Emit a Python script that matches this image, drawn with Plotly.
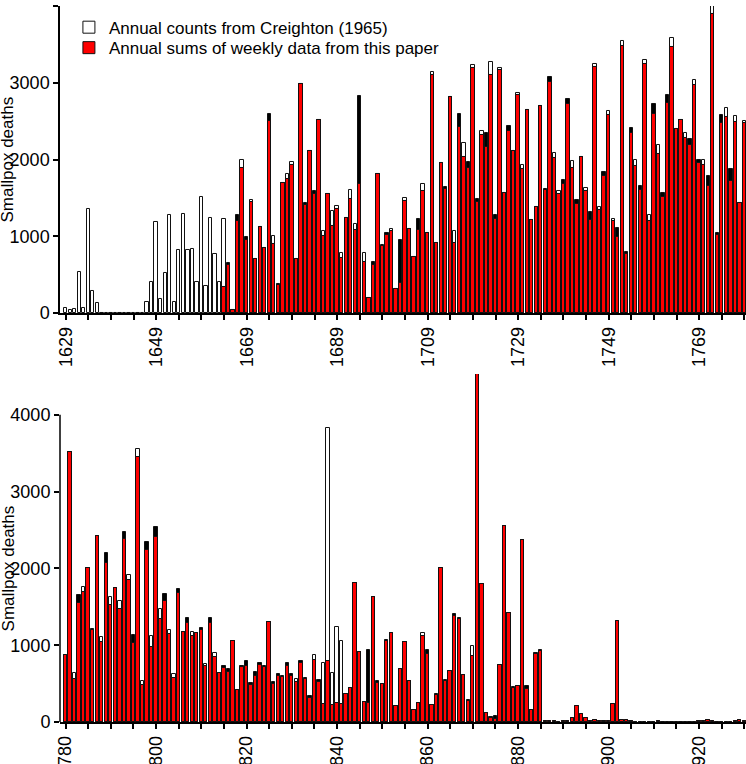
import plotly.graph_objects as go

# ---------------- data ----------------
years_top = list(range(1629, 1780))
creighton_top = (
    [70, 40, 55, 535, 70, 1355, 290, 125]
    + [0] * 10
    + [140, 400, 1190, 183, 522, 1278, 139, 826, 1291, 817, 835, 404, 1517, 352, 1239, 765, 404]
    + [1230, 630, 40, 1196, 1991, 948, 1470, 709, 1122, 852, 2504, 1000, 361, 1696, 1809, 1970]
    + [709, 2983, 1404, 2109, 1557, 2513, 1065, 1557, 1326, 1391, 783, 1243, 1600, 1165, 1687, 787, 196, 622, 1817, 883]
    + [1013, 1096, 317, 391, 1504, 1100, 730, 1078, 1687, 1048, 3143, 913, 1957, 1620, 2809, 1065, 2426, 2209, 1883, 3226]
    + [1443, 2374, 2165, 3274, 1222, 3191, 1570, 2374, 2109, 2870, 1922, 2643, 1209, 1383, 2696, 1600, 3013, 2087, 1591, 1678]
    + [2722, 1978, 1426, 2035, 1635, 1209, 3243, 1383, 1783, 2630, 1230, 991, 3539, 765, 2348, 1991, 1600, 3296, 1274, 2591]
    + [2183, 1513, 2730, 3583, 2400, 2513, 2339, 2187, 3035, 1961, 1991, 1652, 4000, 1013, 2470, 2674, 1717, 2570, 1435, 2500]
)
weekly_top = (
    [None] * 35
    + [340, 652, 40, 1283, 1883, 991, 1448, 709, 1122, 852, 2591, 904, 383, 1696, 1752, 1926]
    + [709, 2983, 1435, 2109, 1591, 2513, 1000, 1557, 1130, 1361, 722, 1243, 1491, 1087, 2830, 665, 196, 661, 1817, 870]
    + [1043, 1065, 317, 957, 1457, 1100, 730, 1230, 1587, 1048, 3100, 913, 1957, 1640, 2809, 913, 2591, 2035, 1965, 3187]
    + [1487, 2317, 2348, 3100, 1283, 3165, 1570, 2435, 2109, 2840, 1874, 2643, 1209, 1383, 2696, 1613, 3070, 2026, 1548, 1730]
    + [2787, 1891, 1478, 2035, 1587, 1313, 3209, 1348, 1839, 2574, 1196, 1104, 3478, 796, 2409, 1917, 1657, 3243, 1196, 2717]
    + [2078, 1570, 2843, 3470, 2400, 2513, 2274, 2270, 2970, 1991, 1935, 1783, 3896, 1043, 2578, 2548, 1870, 2483, 1435, 2470]
)

years_bottom = list(range(1780, 1931))
creighton_bottom = (
    [878, 3517, 639, 1543, 1761, 2009, 1200, 2422, 1109, 2074, 1622, 1748, 1574, 2378, 1913, 1035, 3552, 530, 2239, 1117]
    + [2404, 1465, 1578, 1204, 630, 1683, 1174, 1291, 1174, 1161, 1200, 752, 1283, 900, 639, 709, 652, 1052, 422, 713]
    + [726, 478, 596, 739, 713, 1304, 500, 596, 590, 726, 596, 565, 770, 565, 317, 870, 522, 770, 3826, 639]
    + [1239, 1057, 370, 443, 1813, 913, 261, 252, 1622, 513, 500, 1057, 1165, 209, 696, 1043, 535, 161, 248, 1161]
    + [891, 217, 348, 2000, 530, 661, 1378, 1335, 609, 270, 987, 7912, 1791, 117, 57, 43, 739, 2557, 1422, 448]
    + [465, 2370, 435, 152, 891, 922]
    + [None] * 45
)
weekly_bottom = (
    [878, 3517, 565, 1652, 1696, 2009, 1217, 2422, 1043, 2196, 1522, 1748, 1465, 2470, 1848, 1139, 3448, 487, 2348, 978]
    + [2543, 1335, 1661, 1143, 578, 1735, 1174, 1348, 1126, 1161, 1222, 726, 1348, 848, 639, 730, 687, 1052, 422, 730]
    + [796, 509, 652, 774, 730, 1304, 522, 622, 600, 770, 630, 522, 791, 574, 335, 804, 543, 230, 796, 217]
    + [252, 239, 370, 443, 1813, 913, 261, 935, 1622, 530, 500, 1074, 1165, 209, 696, 1043, 535, 161, 248, 1117]
    + [935, 217, 370, 2000, 552, 661, 1400, 1348, 609, 283, 861, 7912, 1791, 117, 65, 78, 739, 2557, 1422, 457]
    + [474, 2370, 465, 152, 900, 935, 13, 17, 17, 2, 9, 13, 48, 209, 109, 57, 17, 22, 9, 9]
    + [9, 230, 1317, 22, 30, 17, 4, 4, 4, 4, 4, 10, 4, 4, 4, 4, 4, 4, 4, 4]
    + [9, 9, 30, 9, 4, 4, 4, 4, 9, 20, 9]
)

y_ticks = [0, 1000, 2000, 3000, 4000]


def common_part(c, w):
    out = []
    for a, b in zip(c, w):
        if b is None:
            out.append(None)
        elif a is None:
            out.append(b)
        else:
            out.append(min(a, b))
    return out


FONT = "Liberation Sans, Arial, sans-serif"
LINE = dict(color="#111111", width=1)
BW = 0.74

fig = go.Figure()
panels = [
    (years_top, creighton_top, weekly_top, "x", "y", True),
    (years_bottom, creighton_bottom, weekly_bottom, "x2", "y2", False),
]
for yrs, cr, wk, xa, ya, first in panels:
    fig.add_trace(go.Bar(x=yrs, y=cr, width=BW, xaxis=xa, yaxis=ya,
                         marker=dict(color="white", line=LINE),
                         name="Annual counts from Creighton (1965)",
                         showlegend=first, legend="legend"))
for yrs, cr, wk, xa, ya, first in panels:
    fig.add_trace(go.Bar(x=yrs, y=wk, width=BW, xaxis=xa, yaxis=ya,
                         marker=dict(color="black", line=LINE),
                         showlegend=False, name="weekly"))
for yrs, cr, wk, xa, ya, first in panels:
    fig.add_trace(go.Bar(x=yrs, y=common_part(cr, wk), width=BW, xaxis=xa, yaxis=ya,
                         marker=dict(color="#ff0000", line=LINE),
                         name="Annual sums of weekly data from this paper",
                         showlegend=first, legend="legend2"))


def xticks(start, end):
    vals = list(range(start, end + 1, 5))
    txt = [str(v) if (v - start) % 20 == 0 else "" for v in vals]
    return vals, txt


tv1, tt1 = xticks(1629, 1779)
tv2, tt2 = xticks(1780, 1930)

axis_common = dict(showgrid=False, zeroline=False, ticks="outside", ticklen=5,
                   tickwidth=1.5, tickcolor="black", linecolor="black", linewidth=1.5,
                   tickfont=dict(size=18, color="black", family=FONT), automargin=False)

legend_common = dict(xanchor="left", yanchor="top", bgcolor="rgba(0,0,0,0)",
                     font=dict(size=17, color="black", family=FONT))

fig.update_layout(
    width=746, height=764,
    margin=dict(l=60, r=0, t=0, b=0),
    paper_bgcolor="white", plot_bgcolor="white",
    barmode="overlay", bargap=0,
    font=dict(family=FONT, color="black", size=17),
    xaxis=dict(domain=[0, 1], anchor="y", range=[1627.75, 1779.35], showline=True,
               tickmode="array", tickvals=tv1, ticktext=tt1, tickangle=-90, **axis_common),
    yaxis=dict(domain=[0.5903, 0.99215], anchor="x", range=[0, 4000], showline=True,
               tickmode="array", tickvals=y_ticks, **axis_common),
    xaxis2=dict(domain=[0, 1], anchor="y2", range=[1778.78, 1930.38], showline=True,
                tickmode="array", tickvals=tv2, ticktext=tt2, tickangle=-90, **axis_common),
    yaxis2=dict(domain=[0.05497, 0.51047], anchor="x2", range=[0, 4531], showline=False,
                tickmode="array", tickvals=y_ticks, **axis_common),
    legend=dict(x=0.013, y=0.9874, **legend_common),
    legend2=dict(x=0.013, y=0.9606, **legend_common),
    showlegend=True,
)

# y-axis line of lower panel stops at 4000
fig.add_shape(type="line", xref="x2 domain", yref="y2", x0=0, x1=0, y0=0, y1=4000,
              line=dict(color="black", width=1.5))

for ya in ["y", "y2"]:
    fig.add_annotation(text="Smallpox deaths", xref="paper", yref=ya, x=0, y=2000,
                       xanchor="center", yanchor="middle", xshift=-52, textangle=-90,
                       showarrow=False, font=dict(size=17, color="black", family=FONT))

fig.write_html("out.html", config={"displayModeBar": False},
               post_script="document.body.style.margin='0';document.body.style.overflow='hidden';")
